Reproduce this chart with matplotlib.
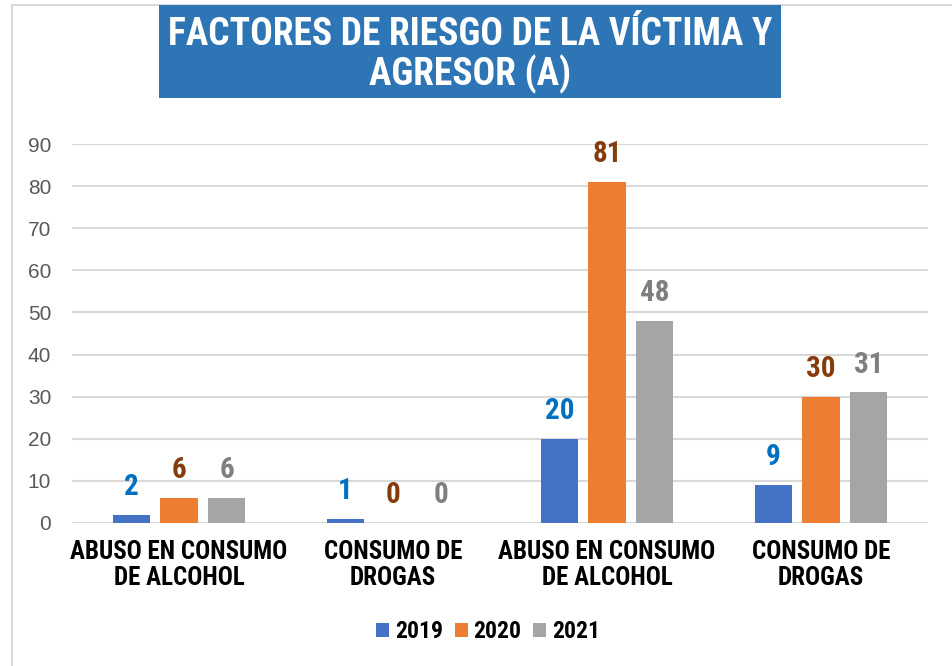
import matplotlib
matplotlib.use("Agg")
import matplotlib.pyplot as plt
from matplotlib.patches import Rectangle
import numpy as np

categories = ["ABUSO EN CONSUMO\nDE ALCOHOL", "CONSUMO DE\nDROGAS",
              "ABUSO EN CONSUMO\nDE ALCOHOL", "CONSUMO DE\nDROGAS"]
series_names = ["2019", "2020", "2021"]
v2019 = [2, 1, 20, 9]
v2020 = [6, 0, 81, 30]
v2021 = [6, 0, 48, 31]
yticks = [0, 10, 20, 30, 40, 50, 60, 70, 80, 90]

bar_colors = ["#4472C4", "#ED7D31", "#A5A5A5"]
label_colors = ["#0070C0", "#843C0C", "#7F7F7F"]
NARROW = ["Roboto Condensed", "Liberation Sans", "DejaVu Sans"]
plt.rcParams["font.family"] = NARROW

fig = plt.figure(figsize=(9.52, 6.66), dpi=100)
# chart border
fig.add_artist(Rectangle((12/952, -0.1), 1.1, 1.1 - 5/666, transform=fig.transFigure,
                         fill=False, edgecolor="#D9D9D9", linewidth=1.5))

ax = fig.add_axes([72/952, 143/666, 856/952, 379/666])
x = np.arange(len(categories))
bw = 0.173
step = 0.222
for i, (vals, name) in enumerate(zip([v2019, v2020, v2021], series_names)):
    pos = x + (i - 1) * step
    ax.bar(pos, vals, width=bw, color=bar_colors[i], label=name, zorder=3)
    for p, v in zip(pos, vals):
        ax.annotate(str(v), (p, v), xytext=(0, 10), textcoords="offset points",
                    ha="center", va="bottom", fontsize=21, fontweight="bold",
                    color=label_colors[i])

ax.set_xlim(-0.5, 3.5)
ax.set_ylim(0, 90)
ax.set_yticks(yticks)
ax.set_yticklabels([str(t) for t in yticks], fontsize=15, color="#595959",
                   family=["Liberation Sans", "DejaVu Sans"])
ax.yaxis.grid(True, color="#D9D9D9", linewidth=1.5, zorder=0)
ax.set_xticks(x)
ax.set_xticklabels(categories, fontsize=18, fontweight="bold", color="black",
                   linespacing=1.1)
ax.tick_params(axis="both", length=0)
ax.tick_params(axis="y", pad=15)
ax.tick_params(axis="x", pad=12)
for s in ax.spines.values():
    s.set_visible(False)

fig.legend(loc="center", bbox_to_anchor=(488/952, 1 - 632/666), ncol=3,
           frameon=False, prop={"family": NARROW, "size": 17, "weight": "bold"},
           handlelength=0.55, handleheight=0.55, handletextpad=0.25,
           columnspacing=0.5)

# title box
fig.add_artist(Rectangle((159/952, 1 - 98/666), 622/952, 93/666,
                         transform=fig.transFigure, facecolor="#2E75B6",
                         edgecolor="none"))
fig.text(470/952, 1 - 55/666, "FACTORES DE RIESGO DE LA VÍCTIMA Y\nAGRESOR (A)",
         ha="center", va="center", fontsize=27, fontweight="bold", color="white",
         linespacing=1.08)

fig.savefig("out.png", dpi=100)
